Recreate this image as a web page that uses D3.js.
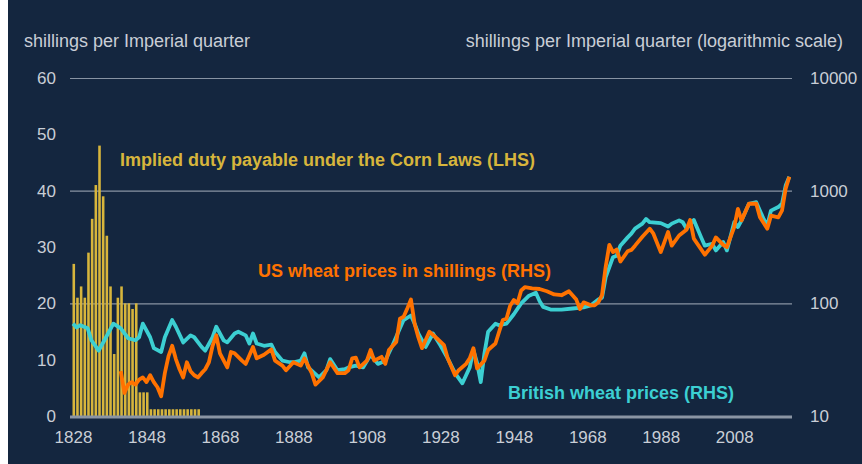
<!DOCTYPE html>
<html lang="en">
<head>
<meta charset="UTF-8">
<title>Wheat prices and the Corn Laws</title>
<script src="https://cdnjs.cloudflare.com/ajax/libs/d3/7.8.5/d3.min.js"></script>
<style>
body { margin: 0; background: #ffffff; }
svg { display: block; }
.tick text, .axis-title { font-family: "Liberation Sans", Arial, sans-serif; fill: #c9ced6; }
.note { font-family: "Liberation Sans", Arial, sans-serif; font-weight: bold; font-size: 18px; }
</style>
</head>
<body>
<div id="chart"></div>
<script>
// implied duty under the Corn Laws, shillings (left axis)
var dutyYears = [1828,1829,1830,1831,1832,1833,1834,1835,1836,1837,1838,1839,1840,1841,1842,1843,1844,1845,
                 1846,1847,1848,1849,1850,1851,1852,1853,1854,1855,1856,1857,1858,1859,1860,1861,1862];
var dutyValues = [27,21,23,21,29,35,41,48,39,32,23,11,21,23,20,20,19,20,
                  4.2,4.2,4.2,1.2,1.2,1.2,1.2,1.2,1.2,1.2,1.2,1.2,1.2,1.2,1.2,1.2,1.2];

// British wheat prices (right axis, log)
var ukYears = [1828,1829,1830,1832,1833,1835,1837,1839,1841,1843,1845,1846,1847,1849,1850,1852,1853,1855,1856,1858,
               1860,1861,1863,1864,1866,1867,1869,1870,1872,1873,1875,1876,1877,1878,1880,1882,1883,1885,1887,1888,
               1890,1891,1892,1895,1897,1898,1900,1902,1903,1905,1907,1909,1911,1913,1915,1917,1918,1920,1921,1922,
               1924,1926,1928,1930,1932,1934,1936,1937,1938,1939,1940,1941,1943,1944,1946,1948,1950,1952,1954,1955,
               1956,1958,1961,1964,1967,1969,1971,1972,1973,1975,1976,1977,1979,1980,1981,1983,1984,1985,1988,1990,
               1991,1993,1994,1995,1997,1999,2000,2002,2003,2005,2006,2008,2009,2010,2012,2014,2016,2017,2018,2020,
               2021,2022,2023];
var ukValues = [66,61,64,60,47,38,50,66,60,49,47,50,66,50,40,37,50,71,62,45,
                52,50,41,38,50,62,47,45,54,56,52,44,54,44,42,43,37,31,30,30,
                31,36,27,22,25.5,32,25.5,26,27,28,27,35,29,31,42.5,60,71,78,66,54,
                41,54,42.5,32.5,24,19.5,27,38.5,29.5,20,36,56,66,64,66,80,100,116,124,105,
                93,88,88,90,92,96,108,112,170,257,265,325,385,415,460,510,560,525,515,480,
                510,545,525,460,550,385,325,338,295,350,295,525,475,545,765,790,560,490,665,715,
                765,1110,1330];

// US wheat prices in shillings (right axis, log)
var usYears = [1841,1842,1843,1844,1845,1846,1847,1848,1849,1850,1851,1852,1853,1854,1855,1856,1857,1858,1859,1860,
               1861,1862,1863,1864,1865,1866,1867,1868,1870,1871,1872,1874,1875,1877,1878,1880,1882,1883,1885,1886,
               1888,1890,1891,1893,1894,1896,1898,1900,1902,1903,1904,1905,1906,1908,1909,1910,1912,1913,1914,1916,
               1917,1918,1919,1920,1921,1922,1923,1925,1927,1929,1930,1932,1933,1935,1936,1937,1938,1940,1941,1943,
               1944,1945,1946,1947,1948,1949,1950,1951,1953,1955,1957,1959,1961,1963,1965,1966,1967,1969,1970,1971,
               1972,1973,1974,1975,1976,1977,1979,1980,1981,1983,1985,1986,1988,1990,1991,1993,1995,1996,1997,2000,
               2002,2003,2005,2006,2008,2009,2010,2012,2014,2015,2017,2018,2020,2021,2022,2023];
var usValues = [25,16,19,20,19,21,22,20,23,20,18,15,24,34,42,32,26,22,30,25,
                23,22,24,26,30,42,52,36,27,37,36,31,29,41,32.5,35,39,31,28,25.5,
                30,28,32.5,24,19,22,30,24,24,25.5,32.5,33,27,31,38.5,31,33.5,29,38.5,45.5,
                73,76,90,108,66,50,40,56,49,42.5,32.5,23,25.5,29,32.5,40,26.5,31,38.5,44,
                56,71,73,95,107,100,130,139,136,134,128,120,118,128,108,89,102,96,96,102,
                118,210,330,285,300,235,290,298,325,390,460,415,285,430,325,400,450,550,375,270,
                325,385,330,315,475,690,545,765,765,580,460,600,580,665,1040,1330];

var xTicks = [1828,1848,1868,1888,1908,1928,1948,1968,1988,2008];
var leftTicks = [0,10,20,30,40,50,60];
var gridTicks = [20,40,60];
var rightTicks = [10,100,1000,10000];

var W = 862, H = 464;
var svg = d3.select('#chart').append('svg').attr('width', W).attr('height', H);

svg.append('rect').attr('x', 8).attr('y', 0).attr('width', W - 8).attr('height', H)
  .attr('fill', '#14263f');

var x = d3.scaleLinear().domain([1828, 2024]).range([73, 793]);
var yL = d3.scaleLinear().domain([0, 60]).range([416, 78]);
var yR = d3.scaleLog().domain([10, 10000]).range([416, 78]);

// gridlines
svg.append('g').attr('transform', 'translate(70,0)')
  .call(d3.axisLeft(yL).tickValues(gridTicks).tickSize(-722).tickFormat(''))
  .call(function(g){ g.select('.domain').remove(); })
  .selectAll('line').attr('stroke', '#8893a3').attr('stroke-width', 1.2);

// bars
var barW = x(1829) - x(1828);
svg.append('g').selectAll('rect')
  .data(dutyYears)
  .enter().append('rect')
  .attr('x', function(d){ return x(d) - 0.5; })
  .attr('width', barW - 1.1)
  .attr('y', function(d, i){ return yL(dutyValues[i]); })
  .attr('height', function(d, i){ return yL(0) - yL(dutyValues[i]); })
  .attr('fill', '#d7b53c');

// baseline
svg.append('line').attr('x1', 70).attr('x2', 792).attr('y1', 417).attr('y2', 417)
  .attr('stroke', '#8a94a3').attr('stroke-width', 3);

var line = d3.line()
  .x(function(d){ return x(d[0]); })
  .y(function(d){ return yR(d[1]); });

svg.append('path')
  .datum(d3.zip(ukYears, ukValues))
  .attr('d', line).attr('fill', 'none')
  .attr('stroke', '#3ccfd2').attr('stroke-width', 3.8).attr('stroke-linejoin', 'round');

svg.append('path')
  .datum(d3.zip(usYears, usValues))
  .attr('d', line).attr('fill', 'none')
  .attr('stroke', '#ff7200').attr('stroke-width', 3.8).attr('stroke-linejoin', 'round');

// left axis
svg.append('g').attr('transform', 'translate(56,0)')
  .call(d3.axisLeft(yL).tickValues(leftTicks).tickSize(0).tickPadding(0))
  .call(function(g){ g.select('.domain').remove(); })
  .selectAll('text').style('font-size', '17px');

// right axis
svg.append('g').attr('transform', 'translate(810,0)')
  .call(d3.axisRight(yR).tickValues(rightTicks).tickSize(0).tickPadding(0).tickFormat(d3.format('d')))
  .call(function(g){ g.select('.domain').remove(); })
  .selectAll('text').style('font-size', '17px');

// x axis
svg.append('g').attr('transform', 'translate(0,428)')
  .call(d3.axisBottom(x).tickValues(xTicks).tickSize(0).tickFormat(d3.format('d')))
  .call(function(g){ g.select('.domain').remove(); })
  .selectAll('text').style('font-size', '17px');

svg.append('text').attr('class', 'axis-title').attr('x', 24).attr('y', 47)
  .style('font-size', '18px').text('shillings per Imperial quarter');
svg.append('text').attr('class', 'axis-title').attr('x', 843).attr('y', 47)
  .attr('text-anchor', 'end').style('font-size', '18px')
  .text('shillings per Imperial quarter (logarithmic scale)');

svg.append('text').attr('class', 'note').attr('x', 120).attr('y', 166)
  .attr('fill', '#d7b53c').text('Implied duty payable under the Corn Laws (LHS)');
svg.append('text').attr('class', 'note').attr('x', 258).attr('y', 277)
  .attr('fill', '#ff7200').text('US wheat prices in shillings (RHS)');
svg.append('text').attr('class', 'note').attr('x', 508).attr('y', 399)
  .attr('fill', '#3ccfd2').text('British wheat prices (RHS)');
</script>
</body>
</html>
